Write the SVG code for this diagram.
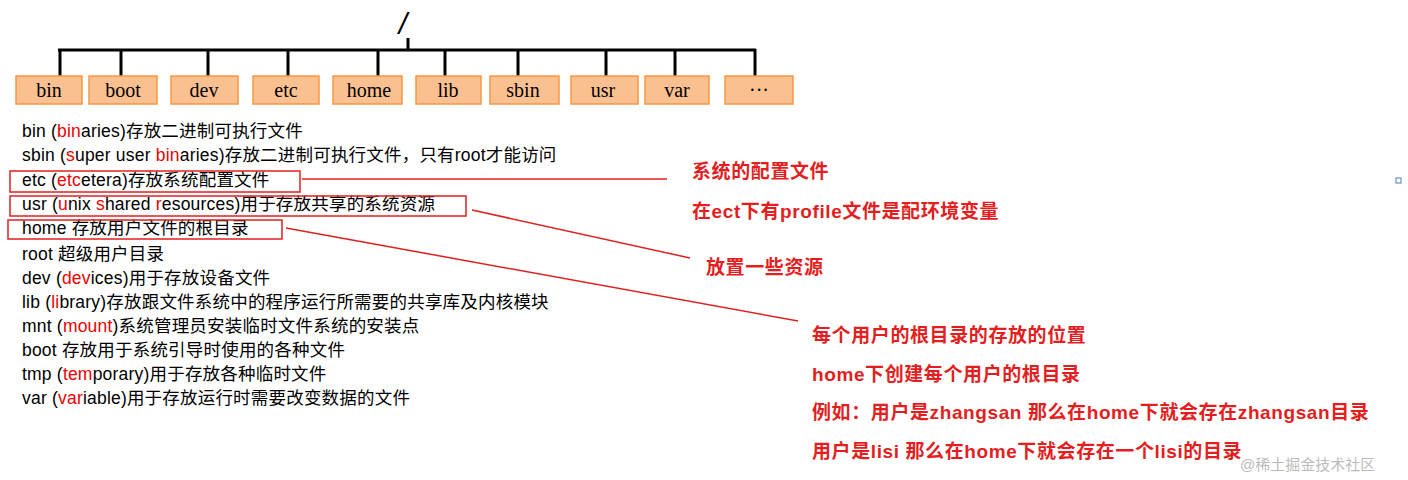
<svg xmlns="http://www.w3.org/2000/svg" width="1408" height="480" viewBox="0 0 1408 480">
<style>
.b{fill:#fac090;stroke:#f79646;stroke-width:1.5}
.bt{font-family:"Liberation Serif",serif;font-size:20px;text-anchor:middle;fill:#000}
.t{font-family:"Liberation Sans","Noto Sans CJK SC",sans-serif;font-size:17.5px;fill:#000;letter-spacing:0.2px}
.r{fill:#e00}
.n{font-family:"Liberation Sans","Noto Sans CJK SC",sans-serif;font-size:19px;font-weight:bold;fill:#e41e1e;letter-spacing:0.6px}
.rb{fill:none;stroke:#e02020;stroke-width:1.5}
</style>
<rect width="1408" height="480" fill="#fff"/>
<text x="403" y="34" font-family="Liberation Sans,sans-serif" font-size="30" font-style="italic" text-anchor="middle">/</text>
<g id="connectors" stroke="#000" stroke-width="3" fill="none">
<line x1="408" y1="38" x2="408" y2="50"/>
<line x1="58" y1="50" x2="756" y2="50"/>
<line x1="60" y1="49" x2="60" y2="76"/><line x1="121" y1="50" x2="121" y2="76"/><line x1="208" y1="50" x2="208" y2="76"/><line x1="288" y1="50" x2="288" y2="76"/><line x1="378" y1="50" x2="378" y2="76"/><line x1="445" y1="50" x2="445" y2="76"/><line x1="518" y1="50" x2="518" y2="76"/><line x1="606" y1="50" x2="606" y2="76"/><line x1="675" y1="50" x2="675" y2="76"/><line x1="755" y1="49" x2="755" y2="76"/>
</g>
<g id="bin"><rect class="b" x="16" y="76" width="66" height="28"/><text class="bt" x="49" y="97">bin</text></g>
<g id="boot"><rect class="b" x="89" y="76" width="68" height="28"/><text class="bt" x="123" y="97">boot</text></g>
<g id="dev"><rect class="b" x="171" y="76" width="67" height="28"/><text class="bt" x="204" y="97">dev</text></g>
<g id="etc"><rect class="b" x="253" y="76" width="66" height="28"/><text class="bt" x="286" y="97">etc</text></g>
<g id="home"><rect class="b" x="333" y="76" width="69" height="28"/><text class="bt" x="369" y="97">home</text></g>
<g id="lib"><rect class="b" x="416" y="76" width="65" height="28"/><text class="bt" x="448" y="97">lib</text></g>
<g id="sbin"><rect class="b" x="490" y="76" width="69" height="28"/><text class="bt" x="523" y="97">sbin</text></g>
<g id="usr"><rect class="b" x="571" y="76" width="67" height="28"/><text class="bt" x="603" y="97">usr</text></g>
<g id="var"><rect class="b" x="645" y="76" width="64" height="28"/><text class="bt" x="677" y="97">var</text></g>
<g id="more"><rect class="b" x="725" y="76" width="68" height="28"/><text class="bt" x="759" y="97">···</text></g>
<g id="list">
<text class="t" x="22" y="137">bin (<tspan class="r">bin</tspan>aries)存放二进制可执行文件</text>
<text class="t" x="22" y="161">sbin (<tspan class="r">s</tspan>uper user <tspan class="r">bin</tspan>aries)存放二进制可执行文件，只有root才能访问</text>
<text class="t" x="22" y="186">etc (<tspan class="r">etc</tspan>etera)存放系统配置文件</text>
<text class="t" x="22" y="210">usr (<tspan class="r">u</tspan>nix <tspan class="r">s</tspan>hared <tspan class="r">r</tspan>esources)用于存放共享的系统资源</text>
<text class="t" x="22" y="234">home 存放用户文件的根目录</text>
<text class="t" x="22" y="260">root 超级用户目录</text>
<text class="t" x="22" y="284">dev (<tspan class="r">dev</tspan>ices)用于存放设备文件</text>
<text class="t" x="22" y="308">lib (<tspan class="r">li</tspan>brary)存放跟文件系统中的程序运行所需要的共享库及内核模块</text>
<text class="t" x="22" y="332">mnt (<tspan class="r">mount</tspan>)系统管理员安装临时文件系统的安装点</text>
<text class="t" x="22" y="356">boot 存放用于系统引导时使用的各种文件</text>
<text class="t" x="22" y="380">tmp (<tspan class="r">tem</tspan>porary)用于存放各种临时文件</text>
<text class="t" x="22" y="404">var (<tspan class="r">var</tspan>iable)用于存放运行时需要改变数据的文件</text>
</g>
<g id="annotations">
<rect class="rb" x="10" y="171" width="290" height="21"/>
<rect class="rb" x="10" y="196" width="456" height="20"/>
<rect class="rb" x="8" y="220" width="274" height="19"/>
<line class="rb" x1="302" y1="179" x2="667" y2="179"/>
<line class="rb" x1="472" y1="210" x2="690" y2="258"/>
<line class="rb" x1="286" y1="228" x2="798" y2="321"/>
</g>
<g id="notes">
<text class="n" x="692" y="178">系统的配置文件</text>
<text class="n" x="692" y="218">在ect下有profile文件是配环境变量</text>
<text class="n" x="706" y="274">放置一些资源</text>
<text class="n" x="812" y="342">每个用户的根目录的存放的位置</text>
<text class="n" x="812" y="381">home下创建每个用户的根目录</text>
<text class="n" x="812" y="419">例如：用户是zhangsan 那么在home下就会存在zhangsan目录</text>
<text class="n" x="812" y="458">用户是lisi 那么在home下就会存在一个lisi的目录</text>
</g>
<rect x="1396" y="178" width="5" height="5" fill="none" stroke="#4a7ebb"/>
<text x="1240" y="470" font-family="Liberation Sans,Noto Sans CJK SC,sans-serif" font-size="15" fill="#bbb">@稀土掘金技术社区</text>
</svg>
